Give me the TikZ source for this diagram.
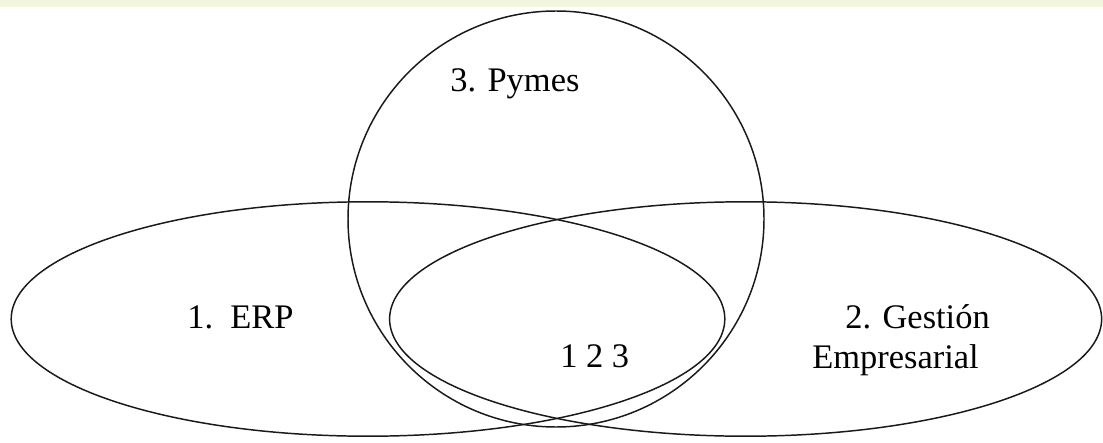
\documentclass[tikz,border=0pt]{standalone}
\usepackage{fontspec}
\setmainfont{Liberation Serif}
\usepackage{xcolor}
\usepackage{tikz}
\usetikzlibrary{positioning}
\definecolor{bandgreen}{RGB}{242,246,222}
\tikzset{
  setline/.style={line width=1.05pt, black!90},
  setlabel/.style={font=\fontsize{24.5}{29}\selectfont, inner sep=0pt, anchor=base west}
}

\begin{document}
\begin{tikzpicture}

% ==========================================
% Canvas and faint top band
% ==========================================
\useasboundingbox (0,0) rectangle (27.575,11.05);
\fill[bandgreen] (0,10.88) rectangle (27.575,11.05);

% ==========================================
% Sets
% ==========================================
% 1. ERP (left ellipse)
\draw[setline] (9.2,3.075) ellipse [x radius=8.92, y radius=2.93];

% 2. Gestion Empresarial (right ellipse)
\draw[setline] (18.64,3.075) ellipse [x radius=8.9, y radius=2.93];

% 3. Pymes (circle)
\draw[setline] (13.9,5.575) circle (5.2);

% ==========================================
% Labels
% ==========================================
\node[setlabel] (pymes) at (11.25,8.76) {3. Pymes};
\node[setlabel] (erp) at (4.675,2.85) {1.\ \ ERP};
\node[setlabel] (gestion) at (21.125,2.85) {2. Gestión};
\node[setlabel] (empresarial) at (20.3,1.85) {Empresarial};
\node[setlabel] (todos) at (14.0,1.875) {1 2 3};

\end{tikzpicture}
\end{document}
